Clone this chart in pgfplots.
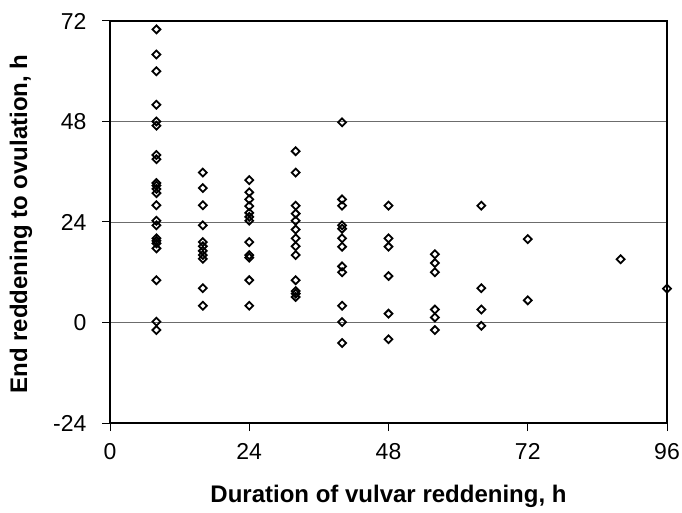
\documentclass[border=0pt]{standalone}
\usepackage{pgfplots}
\pgfplotsset{compat=1.18}
\usepackage{fontspec}
\setmainfont{Liberation Sans}
\begin{document}
\begin{tikzpicture}
\begin{axis}[
  scale only axis,
  width=557pt, height=402pt,
  xmin=0, xmax=96, ymin=-24, ymax=72,
  xtick={0,24,48,72,96}, ytick={-24,0,24,48,72},
  /pgf/number format/assume math mode=true,
  tick label style={font=\fontsize{23}{27}\selectfont},
  xticklabel style={yshift=-9pt},
  yticklabel style={xshift=-12pt},
  xlabel={\bfseries Duration of vulvar reddening, h},
  ylabel={\bfseries End reddening to ovulation, h},
  label style={font=\fontsize{24}{28}\selectfont},
  xlabel style={at={(axis description cs:0.5,-0.182)}, anchor=center},
  ylabel style={at={(axis description cs:-0.16,0.495)}, anchor=center},
  tick align=outside, tick pos=left, major tick length=8pt,
  axis line style={black, line width=1.3pt},
  every tick/.style={black, line width=1pt},
  ymajorgrids, major grid style={gray!85!black, line width=0.8pt},
  clip=false,
]
\addplot[only marks, mark=square, mark size=2.8pt, mark options={rotate=45, line width=1.8pt, black}] table {
x y
8 70
8 64
8 60
8 52
8 48
8 47
8 40
8 39
8 33.3
8 32.7
8 31.9
8 30.9
8 28
8 24.3
8 23.2
8 20.1
8 19.5
8 18.9
8 17.7
8 10.1
8 0.2
8 -1.8
16 35.8
16 32.1
16 28
16 23.2
16 19.2
16 18.2
16 17.1
16 16.1
16 15.2
16 8.2
16 4
24 34
24 31.1
24 29.4
24 27.8
24 26.2
24 25.2
24 24.3
24 19.2
24 16.1
24 15.5
24 10.1
24 4
32 40.9
32 35.8
32 27.9
32 26
32 24.3
32 22.2
32 20.1
32 18.2
32 16.1
32 10.1
32 7.5
32 6.9
32 6.1
40 47.8
40 29.4
40 27.9
40 23.2
40 22.4
40 20.1
40 18.1
40 13.4
40 12
40 4
40 0.1
40 -4.9
48 27.9
48 20.1
48 18.1
48 11.1
48 2.1
48 -4
56 16.3
56 14.2
56 12
56 3.1
56 1.2
56 -1.8
64 27.9
64 8.2
64 3.1
64 -0.8
72 19.9
72 5.3
88 15.1
96 8.1
};
\end{axis}
\pgfresetboundingbox
\path ([shift={(-110pt,-89pt)}]current axis.south west) rectangle ([shift={(15pt,21pt)}]current axis.north east);
\end{tikzpicture}
\end{document}
